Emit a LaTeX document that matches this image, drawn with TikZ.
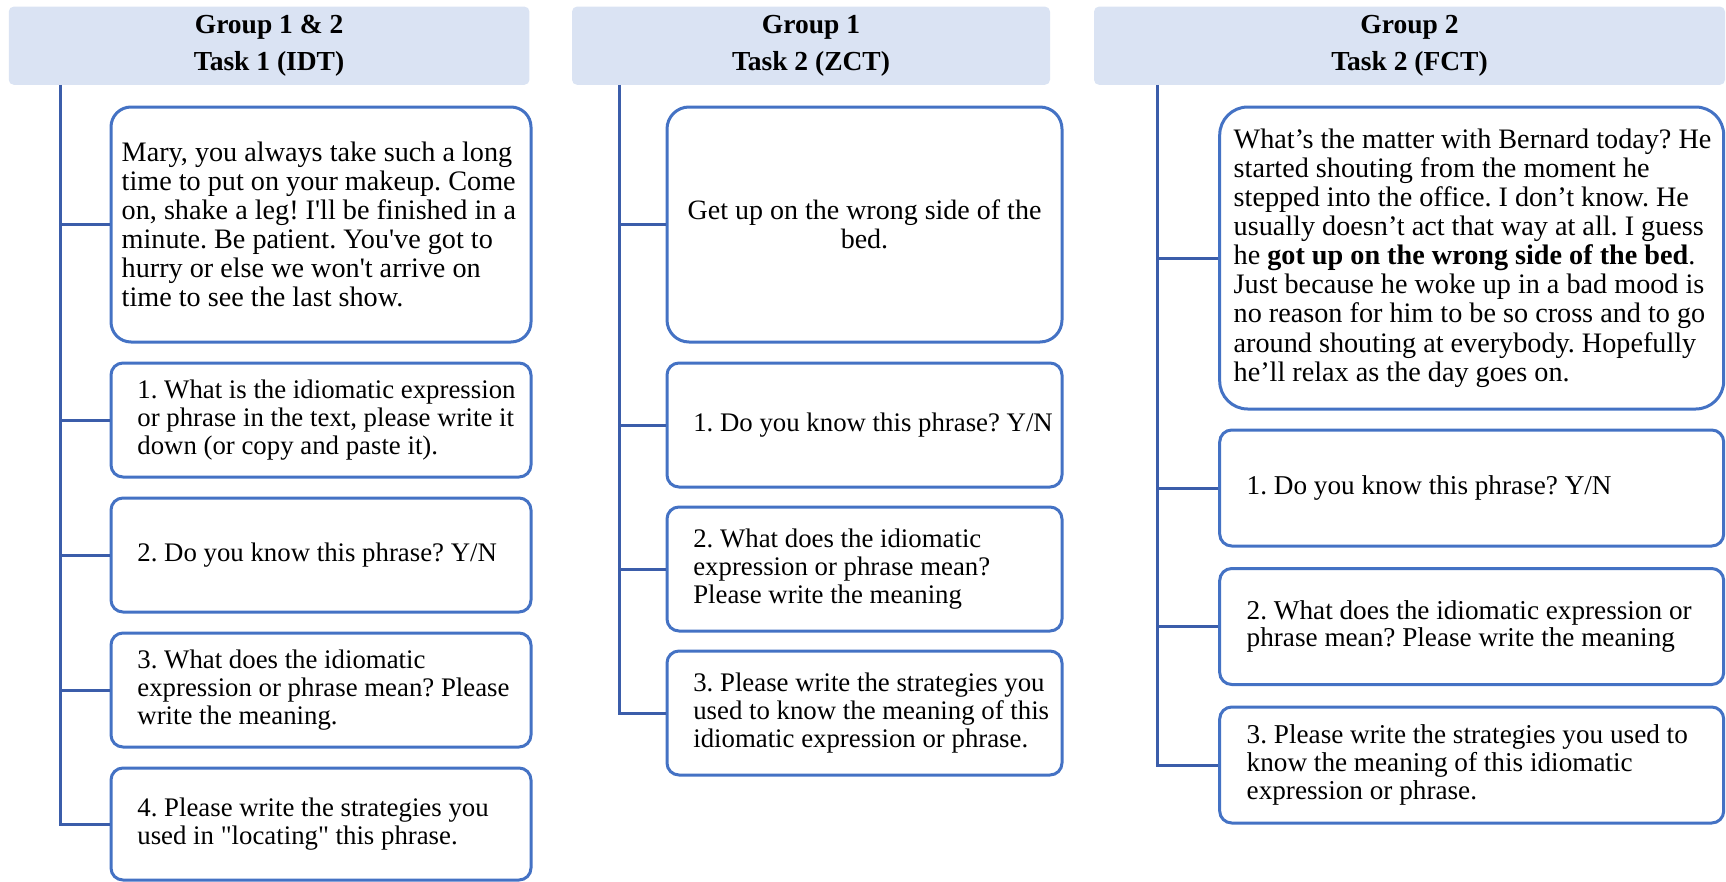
\documentclass[tikz,border=0pt]{standalone}
\usepackage{fontspec}
\setmainfont{Liberation Serif}[Ligatures=TeXOff]
\frenchspacing
\definecolor{headfill}{HTML}{DAE3F3}
\definecolor{boxline}{HTML}{4472C4}
\definecolor{connline}{HTML}{3B5DAA}
\tikzset{
  head/.style={fill=headfill, draw=none, rounded corners=5pt, inner sep=0pt,
    font=\fontsize{27.5}{37}\selectfont\bfseries, align=center},
  card/.style={draw=boxline, line width=3pt, fill=white, inner sep=0pt},
  txt/.style={inner sep=0pt, anchor=west, align=left,
    font=\fontsize{28.2}{29.1}\selectfont},
  smalltxt/.style={txt, font=\fontsize{26.8}{27.6}\selectfont},
  midtxt/.style={txt, font=\fontsize{27.2}{27.8}\selectfont},
  conn/.style={draw=connline, line width=3pt}
}
\begin{document}
\begin{tikzpicture}[x=1pt,y=-1pt]
\useasboundingbox (0,0) rectangle (1726,881);

% ---------- column 1: Group 1 & 2, Task 1 ----------
\node[head, minimum width=520.7pt, minimum height=78.2pt] (h1) at (269.1,45.7)
  {Group 1 \& 2\\Task 1 (IDT)};
\node[card, rounded corners=20pt, minimum width=420pt, minimum height=235pt] (a1) at (321,224.5) {};
\node[card, rounded corners=12pt, minimum width=420pt, minimum height=114pt] (a2) at (321,420) {};
\node[card, rounded corners=12pt, minimum width=420pt, minimum height=114pt] (a3) at (321,555) {};
\node[card, rounded corners=12pt, minimum width=420pt, minimum height=114pt] (a4) at (321,690) {};
\node[card, rounded corners=12pt, minimum width=420pt, minimum height=112pt] (a5) at (321,824) {};
\node[txt] (a1t) at ([xshift=12pt]a1.west)
  {Mary, you always take such a long\\
   time to put on your makeup. Come\\
   on, shake a leg! I'll be finished in a\\
   minute. Be patient. You've got to\\
   hurry or else we won't arrive on\\
   time to see the last show.};
\node[smalltxt] (a2t) at ([xshift=27.7pt]a2.west)
  {1. What is the idiomatic expression\\
   or phrase in the text, please write it\\
   down (or copy and paste it).};
\node[smalltxt] (a3t) at ([xshift=27.7pt]a3.west)
  {2. Do you know this phrase? Y/N};
\node[smalltxt] (a4t) at ([xshift=27.7pt]a4.west)
  {3. What does the idiomatic\\
   expression or phrase mean? Please\\
   write the meaning.};
\node[smalltxt] (a5t) at ([xshift=27.7pt]a5.west)
  {4. Please write the strategies you\\
   used in "locating" this phrase.};
\coordinate (ta) at (60,84.8);
\draw[conn] (ta) |- (a5.west);
\foreach \n in {a1,a2,a3,a4} \draw[conn] (\n.west) -- (\n.west -| ta);

% ---------- column 2: Group 1, Task 2 ----------
\node[head, minimum width=478pt, minimum height=78.2pt] (h2) at (811,45.7)
  {Group 1\\Task 2 (ZCT)};
\node[card, rounded corners=22pt, minimum width=395pt, minimum height=235pt] (b1) at (864.5,224.5) {};
\node[card, rounded corners=12pt, minimum width=395pt, minimum height=124pt] (b2) at (864.5,425) {};
\node[card, rounded corners=12pt, minimum width=395pt, minimum height=124pt] (b3) at (864.5,569) {};
\node[card, rounded corners=12pt, minimum width=395pt, minimum height=124pt] (b4) at (864.5,713) {};
\node[txt, anchor=center, align=center, font=\fontsize{28}{29}\selectfont] (b1t) at (b1.center)
  {Get up on the wrong side of the\\ bed.};
\node[smalltxt] (b2t) at ([xshift=27.6pt]b2.west)
  {1. Do you know this phrase? Y/N};
\node[smalltxt] (b3t) at ([xshift=27.6pt]b3.west)
  {2. What does the idiomatic\\
   expression or phrase mean?\\
   Please write the meaning};
\node[smalltxt] (b4t) at ([xshift=27.6pt]b4.west)
  {3. Please write the strategies you\\
   used to know the meaning of this\\
   idiomatic expression or phrase.};
\coordinate (tb) at (619.5,84.8);
\draw[conn] (tb) |- (b4.west);
\foreach \n in {b1,b2,b3} \draw[conn] (\n.west) -- (\n.west -| tb);

% ---------- column 3: Group 2, Task 2 ----------
\node[head, minimum width=631pt, minimum height=78.2pt] (h3) at (1409.5,45.7)
  {Group 2\\Task 2 (FCT)};
\node[card, rounded corners=28pt, minimum width=504pt, minimum height=302pt] (c1) at (1471.7,258) {};
\node[card, rounded corners=12pt, minimum width=504pt, minimum height=116pt] (c2) at (1471.7,488) {};
\node[card, rounded corners=12pt, minimum width=504pt, minimum height=116pt] (c3) at (1471.7,626.5) {};
\node[card, rounded corners=12pt, minimum width=504pt, minimum height=116pt] (c4) at (1471.7,765) {};
\node[txt] (c1t) at ([xshift=15.3pt]c1.west)
  {What’s the matter with Bernard today? He\\
   started shouting from the moment he\\
   stepped into the office. I don’t know. He\\
   usually doesn’t act that way at all. I guess\\
   he \textbf{got up on the wrong side of the bed}.\\
   Just because he woke up in a bad mood is\\
   no reason for him to be so cross and to go\\
   around shouting at everybody. Hopefully\\
   he’ll relax as the day goes on.};
\node[midtxt] (c2t) at ([xshift=28.3pt]c2.west)
  {1. Do you know this phrase? Y/N};
\node[midtxt] (c3t) at ([xshift=28.3pt]c3.west)
  {2. What does the idiomatic expression or\\
   phrase mean? Please write the meaning};
\node[midtxt] (c4t) at ([xshift=28.3pt]c4.west)
  {3. Please write the strategies you used to\\
   know the meaning of this idiomatic\\
   expression or phrase.};
\coordinate (tc) at (1157,84.8);
\draw[conn] (tc) |- (c4.west);
\foreach \n in {c1,c2,c3} \draw[conn] (\n.west) -- (\n.west -| tc);
\end{tikzpicture}
\end{document}
